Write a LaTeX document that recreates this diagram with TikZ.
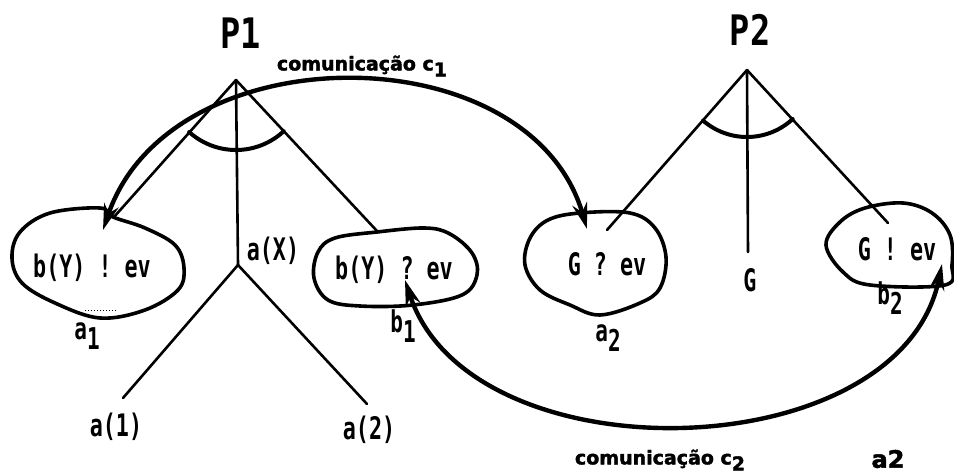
\documentclass[tikz,border=0pt]{standalone}
\usepackage{fontspec}
\newfontfamily\lett[FakeStretch=0.7]{DejaVu Sans Mono Bold}
\newfontfamily\titlefont[FakeStretch=0.8]{DejaVu Sans Mono Bold}
\newfontfamily\heavy[FakeBold=2]{DejaVu Sans Bold}
\usetikzlibrary{arrows.meta,calc}
\newcommand{\mysub}[2]{\raisebox{#1}{#2}}
\begin{document}
\begin{tikzpicture}[x=1pt,y=-1pt,
  tree/.style={line width=2.6pt, line cap=round},
  blob/.style={line width=3.6pt, line join=round},
  wedge/.style={line width=4pt, line cap=round},
  comm/.style={line width=4.4pt, {Stealth[length=26pt,width=15pt]}-{Stealth[length=26pt,width=15pt]}},
  lab/.style={font=\lett\fontsize{31}{31}\selectfont, inner sep=0pt},
  sublab/.style={font=\lett\fontsize{30}{30}\selectfont, inner sep=0pt},
  title/.style={font=\titlefont\fontsize{42}{42}\selectfont, inner sep=0pt},
  commlab/.style={font=\heavy\fontsize{19}{19}\selectfont, inner sep=0pt}
]
\useasboundingbox (0,0) rectangle (954,476);

% titles
\node[title] (P1) at (241,33) {P1};
\node[title] (P2) at (750,30) {P2};

% tree coordinates
\coordinate (p1top) at (236,80);
\coordinate (p1L) at (114,217);
\coordinate (p1R) at (377,231);
\coordinate (ax) at (238,265);
\coordinate (ax1) at (123,398);
\coordinate (ax2) at (367,404);
\coordinate (p2top) at (747,70);
\coordinate (p2L) at (607,230);
\coordinate (p2M) at (748,252);
\coordinate (p2R) at (888,223);

% blobs
\draw[blob] plot[smooth cycle, tension=0.6] coordinates {(20,232) (50,213) (100,208) (113,217) (145,228) (175,245) (184,268) (178,290) (145,310) (100,318) (55,303) (22,283) (12,258)};
\draw[blob] plot[smooth cycle, tension=0.6] coordinates {(318,252) (335,238) (377,232) (425,228) (450,234) (472,253) (477,275) (462,295) (413,305) (360,306) (328,300) (314,278)};
\draw[blob] plot[smooth cycle, tension=0.6] coordinates {(530,238) (548,220) (580,213) (630,213) (655,228) (666,257) (660,288) (640,303) (600,315) (570,305) (540,290) (525,265)};
\draw[blob] plot[smooth cycle, tension=0.6] coordinates {(826,245) (840,222) (865,208) (903,203) (932,213) (950,235) (952,265) (945,285) (870,285) (843,272)};
\draw[line width=1pt, dotted] (85,310) -- (117,310);

% tree lines
\draw[tree] (p1top) -- (p1L);
\draw[tree] (p1top) -- (ax);
\draw[tree] (p1top) -- (p1R);
\draw[tree] (ax) -- (ax1);
\draw[tree] (ax) -- (ax2);
\draw[tree] (p2top) -- (p2L);
\draw[tree] (p2top) -- (p2M);
\draw[tree] (p2top) -- (p2R);

% wedge arcs
\draw[wedge, shift={(p1top)}] plot[domain=47:132, samples=40] ({70*cos(\x)},{70*sin(\x)});
\draw[wedge, shift={(p2top)}] plot[domain=47:131, samples=40] ({67*cos(\x)},{67*sin(\x)});

% texts in blobs
\node[lab] (t1) at (92,268) {b(Y) ! ev};
\node[lab] (t2) at (394,270) {b(Y) ? ev};
\node[lab] (t3) at (607,264) {G ? ev};
\node[lab] (t4) at (897,249) {G ! ev};
\node[lab] (tax) at (273,251) {a(X)};
\node[lab] (tG) at (750,280) {G};
\node[lab] (ta1) at (116,427) {a(1)};
\node[lab] (ta2) at (369,430) {a(2)};

% small labels
\node[sublab] (la1) at (87,336) {a\mysub{-10pt}{1}};
\node[sublab] (lb1) at (403,326) {b\mysub{-10pt}{1}};
\node[sublab] (la2) at (608,338) {a\mysub{-10pt}{2}};
\node[sublab] (lb2) at (890,298) {b\mysub{-10pt}{2}};

% communications
\coordinate (c1s) at (103,230);
\coordinate (c1e) at (587,229);
\draw[comm] (c1s) .. controls (170,32) and (530,32) .. (c1e);
\coordinate (c2s) at (405,280);
\coordinate (c2e) at (942,264);
\draw[comm] (c2s) .. controls (470,480) and (900,470) .. (c2e);

\node[commlab] (lc1) at (362,66) {comunicação c\mysub{-6pt}{1}};
\node[commlab] (lc2) at (660,460) {comunicação c\mysub{-6pt}{2}};
\node[commlab, font=\heavy\fontsize{24}{24}\selectfont] (la2b) at (888,459) {a2};
\end{tikzpicture}
\end{document}
